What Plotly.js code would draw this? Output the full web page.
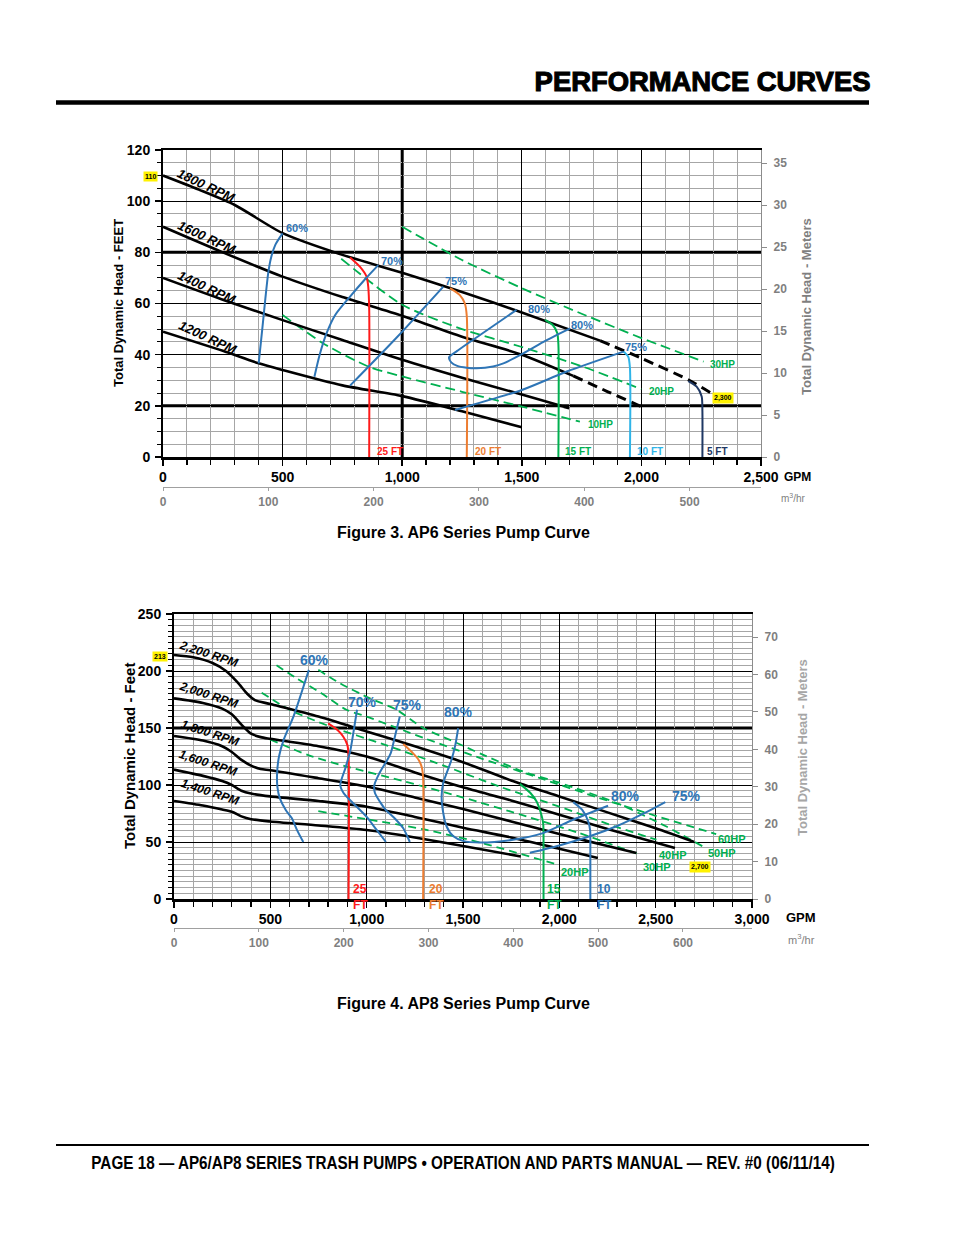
<!DOCTYPE html>
<html><head><meta charset="utf-8">
<script src="https://cdn.plot.ly/plotly-3.0.1.min.js"></script>
<style>html,body{margin:0;padding:0;background:#fff;}#chart{width:954px;height:1235px;}</style>
</head><body><div id="chart"></div>
<script>
// ===== AP6 (Figure 3) data: GPM vs head (ft) =====
const ap6_1800_gpm = [0, 150, 300, 500, 750, 1000, 1250, 1500, 1827];
const ap6_1800_ft  = [110, 104.5, 98.5, 87.5, 79, 72, 64.5, 56.5, 45.5];
const ap6_1800x_gpm = [1827, 2000, 2200, 2300];
const ap6_1800x_ft  = [45.5, 38.6, 30, 24.5];
const ap6_1600_gpm = [0, 250, 500, 750, 1000, 1250, 1500, 1715];
const ap6_1600_ft  = [90, 80, 70.5, 62.5, 55.2, 47, 40, 31.7];
const ap6_1600x_gpm = [1715, 1860, 2000];
const ap6_1600x_ft  = [31.7, 25.5, 19.7];
const ap6_1400_gpm = [0, 250, 500, 750, 1000, 1250, 1500, 1674];
const ap6_1400_ft  = [70, 61.5, 53.5, 45.7, 38, 31, 24.4, 19.7];
const ap6_1400x_gpm = [1674, 1715];
const ap6_1400x_ft  = [19.7, 18.7];
const ap6_1200_gpm = [0, 250, 400, 500, 750, 1000, 1250, 1500];
const ap6_1200_ft  = [49, 41.5, 36.6, 34, 28, 23.8, 17.9, 11.6];
const ap6_rpm_labels = ['1800 RPM', '1600 RPM', '1400 RPM', '1200 RPM'];

const ap6_e60_gpm = [400, 415, 428, 440, 452, 470, 500];
const ap6_e60_ft  = [36.6, 50, 62, 72, 78, 83, 87.4];
const ap6_e70_gpm = [633, 655, 684, 720, 782, 840, 900];
const ap6_e70_ft  = [31.4, 40, 48.4, 55.5, 62.7, 69, 75];
const ap6_e75_gpm = [782, 980, 1172];
const ap6_e75_ft  = [27.9, 47, 66.6];
const ap6_e80_gpm = [1478, 1330, 1230, 1196, 1205, 1230, 1270, 1311, 1380, 1423, 1506, 1600, 1702];
const ap6_e80_ft  = [57.5, 48, 41.5, 39, 37, 35.6, 34.9, 34.7, 35.4, 36.6, 40.5, 45.5, 50.3];
const ap6_e75b_gpm = [1221, 1500, 1688, 1925];
const ap6_e75b_ft  = [18.4, 26.2, 33.4, 41.2];

const ap6_n25_gpm = [782, 823, 851, 858, 862, 862];
const ap6_n25_ft  = [78, 74.4, 70.5, 66.6, 58, 0];
const ap6_n20_gpm = [1200, 1241, 1262, 1270, 1270];
const ap6_n20_ft  = [66, 63.3, 60, 55, 0];
const ap6_n15_gpm = [1597, 1630, 1648, 1653, 1653];
const ap6_n15_ft  = [53.6, 51.5, 48.5, 44, 0];
const ap6_n10_gpm = [1925, 1945, 1952, 1952];
const ap6_n10_ft  = [41.2, 39.2, 35, 0];
const ap6_n5_gpm  = [2196, 2231, 2252, 2255, 2255];
const ap6_n5_ft   = [29.7, 27.5, 23.6, 18, 0];

const ap6_hp30_gpm = [1000, 1250, 1500, 1750, 2000, 2260];
const ap6_hp30_ft  = [90, 77, 66, 56, 46.5, 37.3];
const ap6_hp20_gpm = [745, 1000, 1250, 1500, 1750, 2000];
const ap6_hp20_ft  = [77.5, 59.5, 50, 43, 35.5, 26.5];
const ap6_hp10_gpm = [500, 670, 860, 1000, 1250, 1500, 1743];
const ap6_hp10_ft  = [55.5, 44.4, 35.3, 31.5, 25.5, 19.7, 13.8];

// ===== AP8 (Figure 4) data =====
const ap8_2200_gpm = [0, 100, 200, 270, 330, 380, 420, 500, 750, 1000, 1250, 1500, 1750, 2000, 2250, 2500, 2700];
const ap8_2200_ft  = [214, 212, 207, 200, 190, 180, 174.5, 171, 160, 147, 134, 120, 104, 90, 76, 62, 50];
const ap8_2000_gpm = [0, 150, 250, 300, 350, 400, 450, 500, 750, 1000, 1250, 1500, 1750, 2000, 2250, 2600];
const ap8_2000_ft  = [176, 172, 167, 162, 153, 145, 142, 140.5, 134, 125, 111, 98, 86.5, 74, 61.5, 44.7];
const ap8_1800_gpm = [0, 150, 250, 300, 350, 400, 450, 500, 750, 1000, 1250, 1500, 1750, 2000, 2250, 2400];
const ap8_1800_ft  = [143, 139, 134, 129, 122, 117, 114, 113, 106, 98.7, 89, 79, 68, 57, 46.5, 40.3];
const ap8_1600_gpm = [0, 150, 250, 300, 350, 400, 500, 750, 1000, 1250, 1500, 1750, 2000, 2200];
const ap8_1600_ft  = [113.5, 108, 103.5, 100, 95, 92.5, 90, 86, 81, 72, 62.5, 54, 44, 36];
const ap8_1400_gpm = [0, 150, 250, 300, 350, 400, 500, 750, 1000, 1250, 1500, 1800];
const ap8_1400_ft  = [86, 82, 78.5, 76.5, 72.5, 70, 68, 64.5, 60.5, 54, 46.5, 37.3];
const ap8_rpm_labels = ['2,200 RPM', '2,000 RPM', '1,800 RPM', '1,600 RPM', '1,400 RPM'];

const ap8_e60_gpm = [700, 660, 620, 570, 545, 535, 537, 550, 580, 611, 640, 671];
const ap8_e60_ft  = [201, 180, 160, 140, 125, 110, 98, 88, 78, 71, 60, 50];
const ap8_e70_gpm = [950, 935, 915, 890, 863, 880, 930, 1000, 1050, 1100];
const ap8_e70_ft  = [166, 150, 130, 115, 100, 93, 84, 72, 61, 50];
const ap8_e75_gpm = [1172, 1150, 1125, 1100, 1065, 1040, 1043, 1070, 1100, 1150, 1190, 1224];
const ap8_e75_ft  = [160, 145, 128, 120, 110, 100, 93, 85, 78, 70, 62, 50];
const ap8_e80_gpm = [1475, 1460, 1440, 1397, 1389, 1395, 1415, 1450, 1500, 1587, 1760, 1916, 2071, 2253];
const ap8_e80_ft  = [149.8, 135, 122, 101.6, 90, 78, 63.6, 55, 51, 49.5, 52, 57.8, 69.5, 81.8];
const ap8_e75b_gpm = [1847, 2000, 2158, 2300, 2420, 2550];
const ap8_e75b_ft  = [40.5, 47, 55, 64, 73.5, 85];

const ap8_n25_gpm = [800, 850, 878, 900, 906, 906];
const ap8_n25_ft  = [154, 148, 142.5, 135, 126, 0];
const ap8_n20_gpm = [1190, 1240, 1270, 1287, 1293, 1293];
const ap8_n20_ft  = [136, 128, 122, 115, 106, 0];
const ap8_n15_gpm = [1795, 1850, 1882, 1905, 1916, 1918, 1918];
const ap8_n15_ft  = [101, 93, 85.5, 75, 66.6, 55, 0];
const ap8_n10_gpm = [2072, 2120, 2150, 2160, 2161, 2161];
const ap8_n10_ft  = [85, 78, 68, 60, 50, 0];

const ap8_hp60_gpm = [532, 636, 765, 895, 1000, 1300, 1600, 1900, 2200, 2500, 2814];
const ap8_hp60_ft  = [205, 193.6, 180.5, 166, 160, 141, 123, 106, 89, 73, 57];
const ap8_hp50_gpm = [749, 861, 1017, 1155, 1293, 1432, 1605, 1812, 2000, 2300, 2550, 2746];
const ap8_hp50_ft  = [201, 189.3, 176, 166, 150, 139.6, 126.4, 111.8, 102, 84, 64, 46];
const ap8_hp40_gpm = [455, 600, 800, 1100, 1400, 1700, 2000, 2300, 2504];
const ap8_hp40_ft  = [181, 166, 152, 135, 117, 98, 81, 63, 52];
const ap8_hp30_gpm = [498, 700, 900, 1200, 1500, 1800, 2100, 2401];
const ap8_hp30_ft  = [140, 126, 116, 103, 89, 74, 58, 40];
const ap8_hp20_gpm = [749, 1000, 1300, 1600, 1994];
const ap8_hp20_ft  = [77, 70, 61, 49, 30];

const FT_PER_M = 3.2808;
const M3H_PER_GPM = 0.227125;

// ===== styling =====
const FONT = 'Liberation Sans, Arial, Helvetica, sans-serif';
const BLUE = '#2E75B6', GREEN = '#00B050', RED = '#FF1A1A', ORANGE = '#ED7D31', LBLUE = '#2FB4E8', NAVY = '#1F3864';
const GRID = '#A6A6A6', GRAYTXT = '#7F7F7F';
const W = 954, H = 1235;
const px = (x, y) => ({x: x / W, y: 1 - y / H, xref: 'paper', yref: 'paper', xanchor: 'center', yanchor: 'middle'});

const traces = [];
function line(gx, fy, xa, ya, color, width, dash) {
  traces.push({x: gx, y: fy, xaxis: xa, yaxis: ya, type: 'scatter', mode: 'lines',
    line: {color: color, width: width, dash: dash || 'solid', shape: 'spline', smoothing: 0.7},
    hoverinfo: 'skip', showlegend: false});
}
// AP6
line(ap6_hp30_gpm, ap6_hp30_ft, 'x', 'y', GREEN, 1.8, '10px,5px');
line(ap6_hp20_gpm, ap6_hp20_ft, 'x', 'y', GREEN, 1.8, '10px,5px');
line(ap6_hp10_gpm, ap6_hp10_ft, 'x', 'y', GREEN, 1.8, '10px,5px');
line(ap6_1800_gpm, ap6_1800_ft, 'x', 'y', '#000', 2.6);
line(ap6_1600_gpm, ap6_1600_ft, 'x', 'y', '#000', 2.6);
line(ap6_1400_gpm, ap6_1400_ft, 'x', 'y', '#000', 2.6);
line(ap6_1200_gpm, ap6_1200_ft, 'x', 'y', '#000', 2.6);
line(ap6_1800x_gpm, ap6_1800x_ft, 'x', 'y', '#000', 3, '10px,6px');
line(ap6_1600x_gpm, ap6_1600x_ft, 'x', 'y', '#000', 3, '10px,6px');
line(ap6_1400x_gpm, ap6_1400x_ft, 'x', 'y', '#000', 3, '6px,6px');
line(ap6_n25_gpm, ap6_n25_ft, 'x', 'y', RED, 2);
line(ap6_n20_gpm, ap6_n20_ft, 'x', 'y', ORANGE, 2);
line(ap6_n15_gpm, ap6_n15_ft, 'x', 'y', GREEN, 2);
line(ap6_n10_gpm, ap6_n10_ft, 'x', 'y', LBLUE, 2);
line(ap6_n5_gpm, ap6_n5_ft, 'x', 'y', NAVY, 2);
line(ap6_e60_gpm, ap6_e60_ft, 'x', 'y', BLUE, 2);
line(ap6_e70_gpm, ap6_e70_ft, 'x', 'y', BLUE, 2);
line(ap6_e75_gpm, ap6_e75_ft, 'x', 'y', BLUE, 2);
line(ap6_e80_gpm, ap6_e80_ft, 'x', 'y', BLUE, 2);
line(ap6_e75b_gpm, ap6_e75b_ft, 'x', 'y', BLUE, 2);
// AP8
line(ap8_hp60_gpm, ap8_hp60_ft, 'x3', 'y3', GREEN, 1.8, '8px,5px');
line(ap8_hp50_gpm, ap8_hp50_ft, 'x3', 'y3', GREEN, 1.8, '8px,5px');
line(ap8_hp40_gpm, ap8_hp40_ft, 'x3', 'y3', GREEN, 1.8, '8px,5px');
line(ap8_hp30_gpm, ap8_hp30_ft, 'x3', 'y3', GREEN, 1.8, '8px,5px');
line(ap8_hp20_gpm, ap8_hp20_ft, 'x3', 'y3', GREEN, 1.8, '8px,5px');
line(ap8_2200_gpm, ap8_2200_ft, 'x3', 'y3', '#000', 2.6);
line(ap8_2000_gpm, ap8_2000_ft, 'x3', 'y3', '#000', 2.6);
line(ap8_1800_gpm, ap8_1800_ft, 'x3', 'y3', '#000', 2.6);
line(ap8_1600_gpm, ap8_1600_ft, 'x3', 'y3', '#000', 2.6);
line(ap8_1400_gpm, ap8_1400_ft, 'x3', 'y3', '#000', 2.6);
line(ap8_n25_gpm, ap8_n25_ft, 'x3', 'y3', RED, 2);
line(ap8_n20_gpm, ap8_n20_ft, 'x3', 'y3', ORANGE, 2);
line(ap8_n15_gpm, ap8_n15_ft, 'x3', 'y3', GREEN, 2);
line(ap8_n10_gpm, ap8_n10_ft, 'x3', 'y3', BLUE, 2);
line(ap8_e60_gpm, ap8_e60_ft, 'x3', 'y3', BLUE, 2);
line(ap8_e70_gpm, ap8_e70_ft, 'x3', 'y3', BLUE, 2);
line(ap8_e75_gpm, ap8_e75_ft, 'x3', 'y3', BLUE, 2);
line(ap8_e80_gpm, ap8_e80_ft, 'x3', 'y3', BLUE, 2);
line(ap8_e75b_gpm, ap8_e75b_ft, 'x3', 'y3', BLUE, 2);
// invisible anchors so the metre and m³/hr axes render
traces.push({x: [0, 2500], y: [0, 0], xaxis: 'x', yaxis: 'y2', mode: 'lines', line: {color: 'rgba(0,0,0,0)'}, hoverinfo: 'skip', showlegend: false});
traces.push({x: [0, 0], y: [0, 120], xaxis: 'x2', yaxis: 'y', mode: 'lines', line: {color: 'rgba(0,0,0,0)'}, hoverinfo: 'skip', showlegend: false});
traces.push({x: [0, 3000], y: [0, 0], xaxis: 'x3', yaxis: 'y4', mode: 'lines', line: {color: 'rgba(0,0,0,0)'}, hoverinfo: 'skip', showlegend: false});
traces.push({x: [0, 0], y: [0, 250], xaxis: 'x4', yaxis: 'y3', mode: 'lines', line: {color: 'rgba(0,0,0,0)'}, hoverinfo: 'skip', showlegend: false});

const last = a => a[a.length - 1];
const tf = (size, color, bold) => ({family: FONT, size: size, color: color || '#000', weight: bold === false ? 'normal' : 'bold'});

function mainX(dom, anchor, rng) {
  return {domain: dom, anchor: anchor, range: rng, dtick: 500, tick0: 0, tickformat: ',d',
    showgrid: true, gridcolor: '#000', gridwidth: 1.3, zeroline: false,
    ticks: 'outside', ticklen: 6, tickwidth: 1.5, tickcolor: '#000', ticklabelstandoff: 0,
    showline: true, linecolor: '#000', linewidth: 2.5, mirror: true,
    minor: {dtick: 100, showgrid: true, gridcolor: GRID, gridwidth: 1, ticks: 'outside', ticklen: 5, tickcolor: '#000', tickwidth: 1.3},
    tickfont: tf(14), fixedrange: true};
}
function mainY(dom, anchor, rng, dt) {
  return {domain: dom, anchor: anchor, range: rng, dtick: dt, tick0: 0,
    showgrid: true, gridcolor: '#000', gridwidth: 1.3, zeroline: false,
    ticks: 'outside', ticklen: 6, tickwidth: 1.5, tickcolor: '#000', ticklabelstandoff: 2,
    showline: true, linecolor: '#000', linewidth: 2,
    minor: {dtick: 5, showgrid: true, gridcolor: GRID, gridwidth: 1, ticks: 'outside', ticklen: 4, tickcolor: '#000', tickwidth: 1},
    tickfont: tf(14), fixedrange: true};
}
function meterY(over, anchor, rng, dt) {
  return {overlaying: over, anchor: anchor, side: 'right', range: rng, dtick: dt, tick0: 0,
    showgrid: false, zeroline: false, showline: true, linecolor: '#8C8C8C', linewidth: 1.2,
    ticks: 'outside', ticklen: 5, tickcolor: '#8C8C8C', ticklabelstandoff: 4,
    tickfont: tf(12, GRAYTXT), fixedrange: true};
}
function m3X(over, pos, rng) {
  return {overlaying: over, anchor: 'free', position: pos, side: 'bottom', range: rng, dtick: 100, tick0: 0,
    showgrid: false, zeroline: false, showline: true, linecolor: '#A0A0A0', linewidth: 1.2,
    ticks: 'outside', ticklen: 3, tickcolor: '#A0A0A0', ticklabelstandoff: 0,
    tickfont: tf(12, GRAYTXT), fixedrange: true};
}

const topDomX = [163 / W, 761 / W], topDomY = [1 - 457 / H, 1 - 150 / H];
const botDomX = [174 / W, 752 / W], botDomY = [1 - 899 / H, 1 - 614 / H];

const ann = [];
function A(o) { ann.push(Object.assign({showarrow: false}, o)); }
const FOOTER = 'PAGE 18 — AP6/AP8 SERIES TRASH PUMPS • OPERATION AND PARTS MANUAL — REV. #0 (06/11/14)';
const HEADER = 'PERFORMANCE CURVES';
// Header / footer / figure titles
A(Object.assign(px(702, 82), {text: HEADER, font: {family: FONT, size: 27, color: '#000', weight: 900}}));
A(Object.assign(px(463, 1163), {text: FOOTER, font: {family: FONT, size: 18, color: '#000', weight: 'bold'}}));
A(Object.assign(px(463, 532), {text: 'Figure 3. AP6 Series Pump Curve', font: tf(16)}));
A(Object.assign(px(463, 1003), {text: 'Figure 4. AP8 Series Pump Curve', font: tf(16)}));
// axis titles
A(Object.assign(px(118, 303), {text: 'Total Dynamic Head - FEET', textangle: -90, font: tf(13)}));
A(Object.assign(px(807, 307), {text: 'Total Dynamic Head - Meters', textangle: -90, font: tf(13, GRAYTXT)}));
A(Object.assign(px(129, 756), {text: 'Total Dynamic Head - Feet', textangle: -90, font: tf(15)}));
A(Object.assign(px(802, 748), {text: 'Total Dynamic Head - Meters', textangle: -90, font: tf(13, '#A6A6A6')}));
A(Object.assign(px(797, 477), {text: 'GPM', font: tf(12)}));
A(Object.assign(px(793, 498), {text: 'm<sup>3</sup>/hr', font: tf(10, GRAYTXT, false)}));
A(Object.assign(px(801, 918), {text: 'GPM', font: tf(13)}));
A(Object.assign(px(801, 939), {text: 'm<sup>3</sup>/hr', font: tf(11, GRAYTXT, false)}));
// yellow markers
A(Object.assign(px(150, 176), {text: String(ap6_1800_ft[0]), bgcolor: '#FFF200', borderpad: 1, font: tf(7)}));
A(Object.assign(px(723, 398), {text: last(ap6_1800x_gpm).toLocaleString('en-US'), bgcolor: '#FFF200', borderpad: 1, font: tf(7)}));
A(Object.assign(px(160, 656), {text: '213', bgcolor: '#FFF200', borderpad: 1, font: tf(7)}));
A(Object.assign(px(700, 867), {text: last(ap8_2200_gpm).toLocaleString('en-US'), bgcolor: '#FFF200', borderpad: 1, font: tf(7)}));
// RPM labels
const ap6RpmPos = [[206, 186], [207, 237], [207, 287], [208, 337]];
ap6_rpm_labels.forEach((t, i) => A(Object.assign(px(ap6RpmPos[i][0], ap6RpmPos[i][1]), {text: '<i>' + t + '</i>', textangle: 25, font: tf(13)})));
const ap8RpmPos = [[209, 654], [209, 695], [210, 733], [208, 763], [210, 792]];
ap8_rpm_labels.forEach((t, i) => A(Object.assign(px(ap8RpmPos[i][0], ap8RpmPos[i][1]), {text: '<i>' + t + '</i>', textangle: 18, font: tf(12)})));

// label at a data point with pixel shifts
function L(xa, ya, x, y, text, color, size, xs, ys, xanchor) {
  A({xref: xa, yref: ya, x: x, y: y, text: text, xanchor: xanchor || 'left', yanchor: 'middle', xshift: xs, yshift: ys, font: tf(size, color)});
}
// AP6 efficiency labels
L('x', 'y', last(ap6_e60_gpm), last(ap6_e60_ft), '60%', BLUE, 11, 1, 5);
L('x', 'y', last(ap6_e70_gpm), last(ap6_e70_ft), '70%', BLUE, 11, 1, 4);
L('x', 'y', last(ap6_e75_gpm), last(ap6_e75_ft), '75%', BLUE, 11, 0, 6);
L('x', 'y', ap6_e80_gpm[0], ap6_e80_ft[0], '80%', BLUE, 11, 9, 1);
L('x', 'y', last(ap6_e80_gpm), last(ap6_e80_ft), '80%', BLUE, 11, -1, 3);
L('x', 'y', last(ap6_e75b_gpm), last(ap6_e75b_ft), '75%', BLUE, 11, 0, 5);
// AP6 HP labels
L('x', 'y', last(ap6_hp30_gpm), last(ap6_hp30_ft), '30HP', GREEN, 10, 4, -3);
L('x', 'y', last(ap6_hp20_gpm), last(ap6_hp20_ft), '20HP', GREEN, 10, 6, -2);
L('x', 'y', last(ap6_hp10_gpm), last(ap6_hp10_ft), '10HP', GREEN, 10, 6, -3);
// AP6 NPSH labels
L('x', 'y', last(ap6_n25_gpm), 0, '25 FT', RED, 10, 6, 6);
L('x', 'y', last(ap6_n20_gpm), 0, '20 FT', ORANGE, 10, 6, 6);
L('x', 'y', last(ap6_n15_gpm), 0, '15 FT', GREEN, 10, 5, 6);
L('x', 'y', last(ap6_n10_gpm), 0, '10 FT', LBLUE, 10, 5, 6);
L('x', 'y', last(ap6_n5_gpm), 0, '5 FT', NAVY, 10, 3, 6);
// AP8 efficiency labels
function C(xa, ya, x, y, text, color, size, xs, ys) {
  A({xref: xa, yref: ya, x: x, y: y, text: text, xanchor: 'center', yanchor: 'middle', xshift: xs, yshift: ys, font: tf(size, color)});
}
C('x3', 'y3', ap8_e60_gpm[0], ap8_e60_ft[0], '60%', BLUE, 14, 6, 10);
C('x3', 'y3', ap8_e70_gpm[0], ap8_e70_ft[0], '70%', BLUE, 14, 5, 8);
C('x3', 'y3', ap8_e75_gpm[0], ap8_e75_ft[0], '75%', BLUE, 14, 8, 12);
C('x3', 'y3', ap8_e80_gpm[0], ap8_e80_ft[0], '80%', BLUE, 14, 0, 16);
C('x3', 'y3', last(ap8_e80_gpm), last(ap8_e80_ft), '80%', BLUE, 14, 17, 10);
C('x3', 'y3', last(ap8_e75b_gpm), last(ap8_e75b_ft), '75%', BLUE, 14, 21, 6);
// AP8 HP labels
A(Object.assign(px(732, 839), {text: '60HP', font: tf(11, GREEN)}));
A(Object.assign(px(722, 853), {text: '50HP', font: tf(11, GREEN)}));
A(Object.assign(px(673, 855), {text: '40HP', font: tf(11, GREEN)}));
A(Object.assign(px(657, 867), {text: '30HP', font: tf(11, GREEN)}));
A(Object.assign(px(575, 872), {text: '20HP', font: tf(11, GREEN)}));
// AP8 NPSH labels (two lines each)
function N(x, text, color, xs) {
  A({xref: 'x3', yref: 'y3', x: x, y: 0, text: text, xanchor: 'left', yanchor: 'middle', xshift: xs, yshift: 10, font: tf(12, color)});
  A({xref: 'x3', yref: 'y3', x: x, y: 0, text: 'FT', xanchor: 'left', yanchor: 'middle', xshift: xs, yshift: -6, font: tf(12, color)});
}
N(last(ap8_n25_gpm), '25', RED, 2);
N(last(ap8_n20_gpm), '20', ORANGE, 4);
N(last(ap8_n15_gpm), '15', GREEN, 1);
N(last(ap8_n10_gpm), '10', BLUE, 5);

const shapes = [
  {type: 'line', xref: 'paper', yref: 'paper', x0: 56 / W, x1: 869 / W, y0: 1 - 102.5 / H, y1: 1 - 102.5 / H, line: {color: '#000', width: 4.5}},
  {type: 'line', xref: 'paper', yref: 'paper', x0: 56 / W, x1: 869 / W, y0: 1 - 1145 / H, y1: 1 - 1145 / H, line: {color: '#000', width: 2}},
  // heavy grid lines
  {type: 'line', xref: 'x', yref: 'y', x0: 1000, x1: 1000, y0: 0, y1: 120, layer: 'below', line: {color: '#000', width: 3}},
  {type: 'line', xref: 'x', yref: 'y', x0: 0, x1: 2500, y0: 80, y1: 80, layer: 'below', line: {color: '#000', width: 3}},
  {type: 'line', xref: 'x', yref: 'y', x0: 0, x1: 2500, y0: 20, y1: 20, layer: 'below', line: {color: '#000', width: 3}},
  {type: 'line', xref: 'x3', yref: 'y3', x0: 0, x1: 3000, y0: 150, y1: 150, layer: 'below', line: {color: '#000', width: 3}}
];

const layout = {
  width: W, height: H, margin: {l: 0, r: 0, t: 0, b: 0}, paper_bgcolor: '#fff', plot_bgcolor: '#fff',
  showlegend: false, font: {family: FONT},
  xaxis: mainX(topDomX, 'y', [0, 2500]),
  yaxis: mainY(topDomY, 'x', [0, 120], 20),
  yaxis2: meterY('y', 'x', [0, 120 / FT_PER_M], 5),
  xaxis2: m3X('x', 1 - 487 / H, [0, 2500 * M3H_PER_GPM]),
  xaxis3: mainX(botDomX, 'y3', [0, 3000]),
  yaxis3: mainY(botDomY, 'x3', [0, 250], 50),
  yaxis4: meterY('y3', 'x3', [0, 250 / FT_PER_M], 10),
  xaxis4: m3X('x3', 1 - 928 / H, [0, 3000 * M3H_PER_GPM]),
  annotations: ann, shapes: shapes
};
layout.xaxis3.gridwidth = 1; layout.yaxis3.gridwidth = 1;
Plotly.newPlot('chart', traces, layout, {staticPlot: true, displayModeBar: false}).then(gd => {
  // condense footer and header text horizontally, like the condensed typeface of the original page
  const fit = {};
  fit[FOOTER] = 744; fit[HEADER] = 336;
  gd.querySelectorAll('.annotation-text').forEach(t => {
    const target = fit[t.textContent];
    if (target) {
      const w = t.getComputedTextLength();
      t.style.transformBox = 'fill-box';
      t.style.transformOrigin = 'center';
      t.style.transform = 'scaleX(' + (target / w).toFixed(4) + ')';
      if (t.textContent === HEADER) { t.style.stroke = '#000'; t.style.strokeWidth = '1.1px'; }
    }
  });
});
</script></body></html>
